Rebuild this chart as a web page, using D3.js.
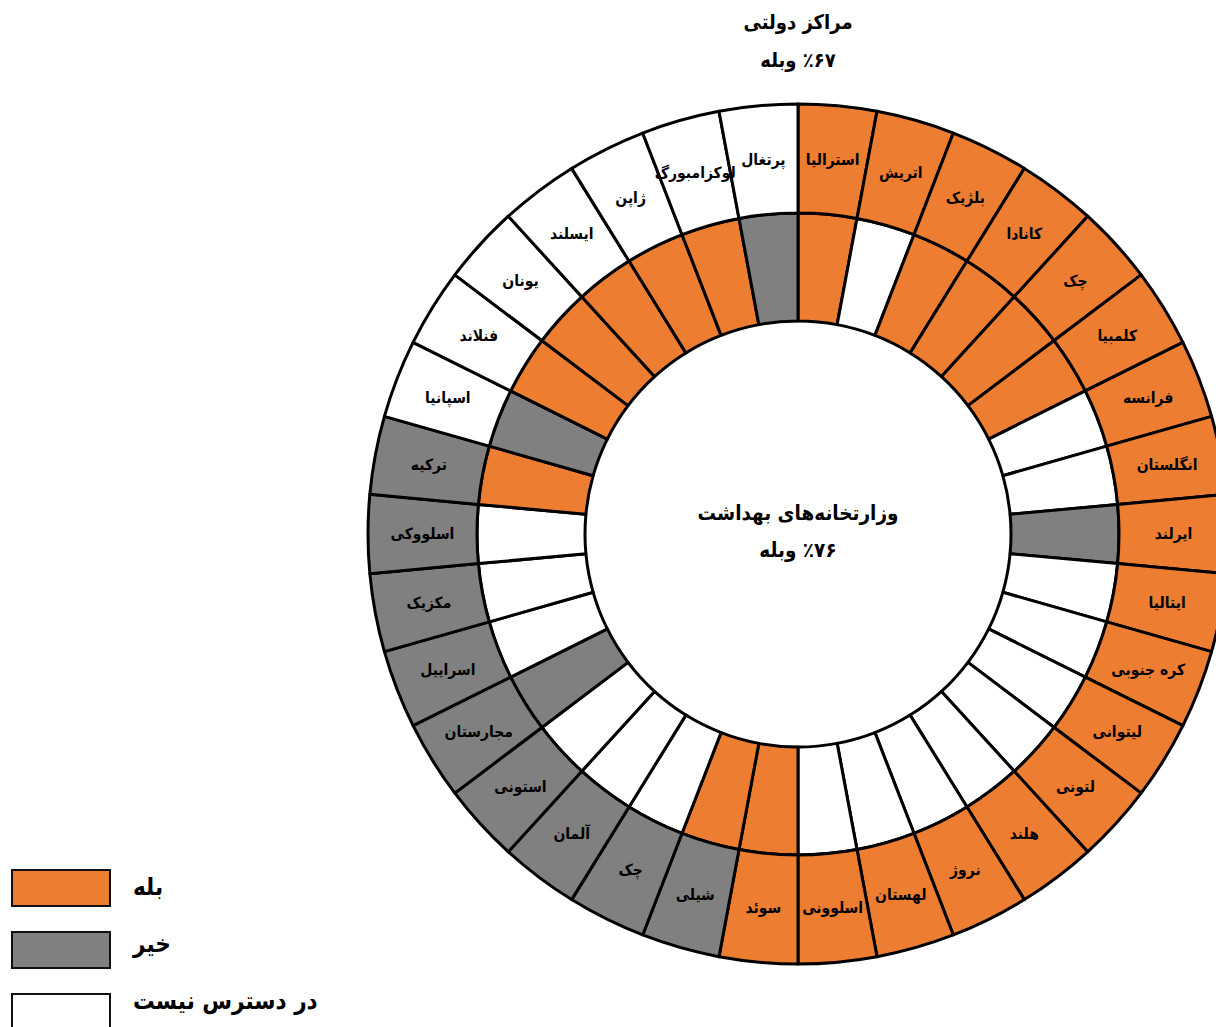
<!DOCTYPE html>
<html lang="fa">
<head>
<meta charset="utf-8">
<script src="https://cdn.jsdelivr.net/npm/d3@7"></script>
<style>
  html, body { margin: 0; padding: 0; background: #fff; }
  svg { display: block; }
  text { font-family: "DejaVu Sans Condensed", "DejaVu Sans", sans-serif; font-stretch: condensed; font-weight: bold; fill: #000; }
</style>
</head>
<body>
<svg id="chart" width="1216" height="1027"></svg>
<script>
// ---- data ----
const countries = ["استرالیا","اتریش","بلژیک","کانادا","چک","کلمبیا","فرانسه","انگلستان","ایرلند","ایتالیا","کره جنوبی","لیتوانی","لتونی","هلند","نروژ","لهستان","اسلوونی","سوئد","شیلی","چک","آلمان","استونی","مجارستان","اسراییل","مکزیک","اسلووکی","ترکیه","اسپانیا","فنلاند","یونان","ایسلند","ژاپن","لوکزامبورگ","پرتغال"];
// outer ring: government centres
const govStatus = ["yes","yes","yes","yes","yes","yes","yes","yes","yes","yes","yes","yes","yes","yes","yes","yes","yes","yes","no","no","no","no","no","no","no","no","no","na","na","na","na","na","na","na"];
// inner ring: health ministries
const healthStatus = ["yes","na","yes","yes","yes","yes","na","na","no","na","na","na","na","na","na","na","na","yes","yes","na","na","na","no","na","na","na","yes","no","yes","yes","yes","yes","yes","no"];
const statusKeys = ["yes","no","na"];
const legendLabels = ["بله","خیر","در دسترس نیست"];
const outerTitle = ["مراکز دولتی","٪۶۷ وبله"];
const innerTitle = ["وزارتخانه‌های بهداشت","٪۷۶ وبله"];

// ---- drawing ----
const svg = d3.select("#chart");
const cx = 798, cy = 534;
const rOuter = 430, rMid = 321, rInner = 213;

const color = d3.scaleOrdinal().domain(statusKeys).range(["#ED7D31","#808080","#FFFFFF"]);

const pie = d3.pie().sort(null).value(() => 1).startAngle(0).endAngle(2 * Math.PI);
const slices = pie(countries.map((c, i) => ({country: c, gov: govStatus[i], health: healthStatus[i]})));

const g = svg.append("g").attr("transform", `translate(${cx},${cy})`);

const arcOuter = d3.arc().innerRadius(rMid).outerRadius(rOuter);
const arcInner = d3.arc().innerRadius(rInner).outerRadius(rMid);

g.selectAll("path.inner").data(slices).join("path")
  .attr("class", "inner")
  .attr("d", arcInner)
  .attr("fill", d => color(d.data.health))
  .attr("stroke", "#000").attr("stroke-width", 3).attr("stroke-linejoin", "round");

g.selectAll("path.outer").data(slices).join("path")
  .attr("class", "outer")
  .attr("d", arcOuter)
  .attr("fill", d => color(d.data.gov))
  .attr("stroke", "#000").attr("stroke-width", 3).attr("stroke-linejoin", "round");

g.selectAll("text.lbl").data(slices).join("text")
  .attr("class", "lbl")
  .attr("transform", d => `translate(${arcOuter.centroid(d)})`)
  .attr("text-anchor", "middle")
  .attr("dominant-baseline", "central")
  .attr("font-size", 15.5)
  .text(d => d.data.country);

// titles
svg.append("g").selectAll("text").data(outerTitle).join("text")
  .attr("x", cx).attr("y", (d, i) => 22 + i * 38)
  .attr("text-anchor", "middle").attr("dominant-baseline", "central")
  .attr("direction", "rtl")
  .attr("font-size", 20)
  .text(d => d);

svg.append("g").selectAll("text").data(innerTitle).join("text")
  .attr("x", cx).attr("y", (d, i) => 513 + i * 37)
  .attr("text-anchor", "middle").attr("dominant-baseline", "central")
  .attr("direction", "rtl")
  .attr("font-size", 20.5)
  .text(d => d);

// legend
const leg = svg.append("g").selectAll("g").data(statusKeys).join("g")
  .attr("transform", (d, i) => `translate(12,${870 + i * 62})`);
leg.append("rect")
  .attr("width", 98).attr("height", 36)
  .attr("fill", d => color(d))
  .attr("stroke", "#111").attr("stroke-width", 2);
leg.append("text")
  .attr("x", 121).attr("y", (d, i) => 17 - i * 5)
  .attr("direction", "rtl")
  .attr("text-anchor", "end")
  .attr("dominant-baseline", "central")
  .attr("font-size", 24)
  .text((d, i) => legendLabels[i]);
</script>
</body>
</html>
